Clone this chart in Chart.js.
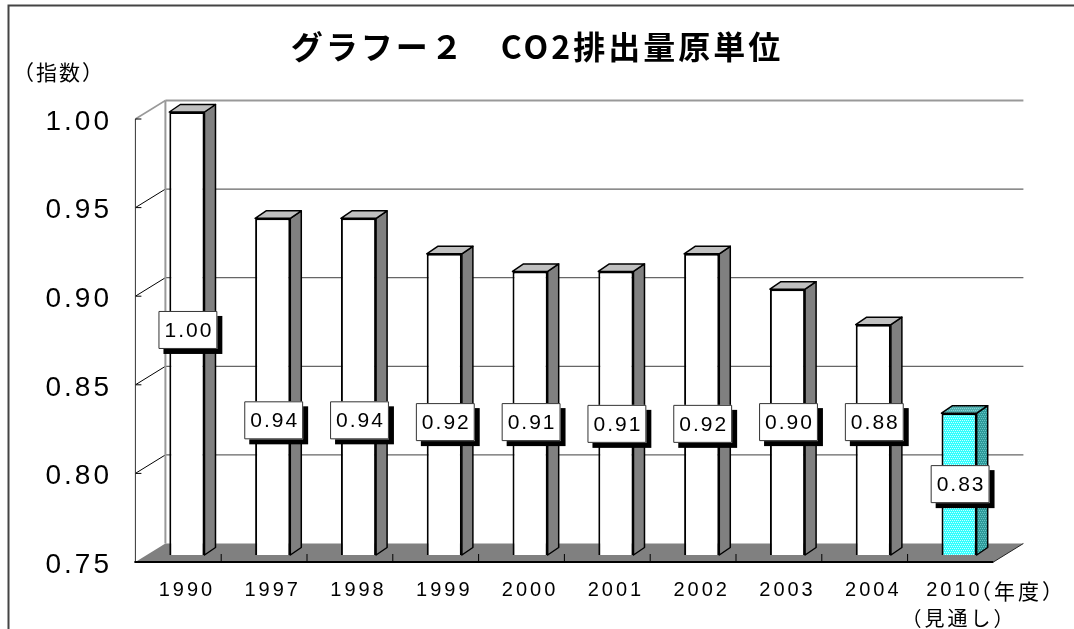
<!DOCTYPE html>
<html lang="ja">
<head>
<meta charset="utf-8">
<title>グラフー２　CO2排出量原単位</title>
<script src="https://cdn.jsdelivr.net/npm/chart.js@4.4.1/dist/chart.umd.min.js"></script>
<style>
  html, body { margin: 0; padding: 0; background: #fff; }
</style>
</head>
<body>
<canvas id="chart" width="1074" height="629"></canvas>
<script>
// ===== DATA =====
const categories = ["1990", "1997", "1998", "1999", "2000", "2001", "2002", "2003", "2004", "2010"];
const values = [1.00, 0.94, 0.94, 0.92, 0.91, 0.91, 0.92, 0.90, 0.88, 0.83];
const yTicks = [0.75, 0.80, 0.85, 0.90, 0.95, 1.00];
const forecastYear = "2010";   // 見通し

// where each value label box sits (in axis units)
const labelAnchor = [0.877, 0.826, 0.826, 0.825, 0.825, 0.824, 0.824, 0.825, 0.825, 0.790];

// ===== 3D GEOMETRY (relative to the plane of the bar fronts) =====
const FRONT = {dx: -8.6, dy: 7};
const BACK = {dx: 21.4, dy: -11.5};
const DEPTH = {dx: 11, dy: -7.5};
const SANS = '"Liberation Sans", Arial, "Noto Sans CJK JP", sans-serif';
const CJK = '"Noto Sans CJK JP", "Noto Sans CJK SC", sans-serif';

const canvas = document.getElementById("chart");
const ctx = canvas.getContext("2d");

// small dithered fill like the original cyan bar
function dither(base, dot) {
  const c = document.createElement("canvas");
  c.width = 4; c.height = 4;
  const g = c.getContext("2d");
  g.fillStyle = base;
  g.fillRect(0, 0, 4, 4);
  g.fillStyle = dot;
  [[0, 0], [2, 0], [1, 2], [3, 2]].forEach(p => g.fillRect(p[0], p[1], 1, 1));
  return ctx.createPattern(c, "repeat");
}
const cyanFront = dither("#33ffff", "#ccffff");
const cyanSide = dither("#2e9a9a", "#66c6c6");
const cyanTop = dither("#4fb0b0", "#8ad4d4");

const isForecast = categories.map(c => c === forecastYear);
const frontFill = isForecast.map(f => f ? cyanFront : "#ffffff");
const sideFill = isForecast.map(f => f ? cyanSide : "#808080");
const topFill = isForecast.map(f => f ? cyanTop : "#c0c0c0");

function poly(pts, fill, stroke, lw) {
  ctx.beginPath();
  ctx.moveTo(pts[0][0], pts[0][1]);
  for (let i = 1; i < pts.length; i++) ctx.lineTo(pts[i][0], pts[i][1]);
  ctx.closePath();
  if (fill) { ctx.fillStyle = fill; ctx.fill(); }
  if (stroke) { ctx.strokeStyle = stroke; ctx.lineWidth = lw || 1; ctx.stroke(); }
}
function line(x1, y1, x2, y2, color, lw) {
  ctx.beginPath();
  ctx.moveTo(x1, y1);
  ctx.lineTo(x2, y2);
  ctx.strokeStyle = color;
  ctx.lineWidth = lw || 1;
  ctx.stroke();
}

// ===== PLUGIN: frame, titles, walls, floor, bar sides, labels =====
const threeD = {
  id: "threeD",
  beforeDraw(chart) {
    ctx.save();
    // outer frame
    ctx.beginPath();
    ctx.moveTo(8.5, 640);
    ctx.lineTo(8.5, 5.5);
    ctx.lineTo(1080, 5.5);
    ctx.strokeStyle = "#444";
    ctx.lineWidth = 2;
    ctx.stroke();

    ctx.fillStyle = "#000";
    ctx.textBaseline = "middle";
    ctx.textAlign = "center";
    ctx.font = "bold 32px " + CJK;
    ctx.letterSpacing = "3px";
    ctx.fillText("グラフー２　CO2排出量原単位", 537, 47);

    ctx.textAlign = "left";
    ctx.font = "21px " + CJK;
    ctx.letterSpacing = "2px";
    ctx.fillText("（指数）", 13, 72);

    ctx.font = "21px " + CJK;
    ctx.letterSpacing = "3px";
    ctx.fillText("（年度）", 970, 591);
    ctx.restore();
    ctx.letterSpacing = "3px";   // axis labels are widely spaced
  },
  beforeDatasetsDraw(chart) {
    const {left, right} = chart.chartArea;
    const y = chart.scales.y, x = chart.scales.x;
    const lo = yTicks[0], hi = yTicks[yTicks.length - 1];
    const fx0 = left + FRONT.dx, fx1 = right + FRONT.dx;
    const bx0 = left + BACK.dx, bx1 = right + BACK.dx;
    const yF = v => y.getPixelForValue(v) + FRONT.dy;
    const yB = v => y.getPixelForValue(v) + BACK.dy;

    ctx.save();
    // left side wall and back wall
    poly([[fx0, yF(hi)], [bx0, yB(hi)], [bx0, yB(lo)], [fx0, yF(lo)]], "#fff");
    poly([[bx0, yB(hi)], [bx1, yB(hi)], [bx1, yB(lo)], [bx0, yB(lo)]], "#fff");

    yTicks.forEach(v => {
      if (v === lo || v === hi) return;
      line(bx0, yB(v), bx1, yB(v), "#666", 1.2);
      line(bx0, yB(v), fx0, yF(v), "#000", 1);
      line(fx0, yF(v), fx0 + 6, yF(v), "#000", 1);
    });
    line(bx0, yB(hi), bx1, yB(hi), "#999", 2);
    line(fx0, yF(hi), bx0, yB(hi), "#999", 1.5);
    line(bx0, yB(hi), bx0, yB(lo), "#999", 2);
    line(fx0, yF(hi), fx0, yF(lo), "#333", 1);
    line(fx0, yF(hi), fx0 + 6, yF(hi), "#000", 1);

    // floor
    poly([[fx0, yF(lo)], [fx1, yF(lo)], [bx1, yB(lo)], [bx0, yB(lo)]], "#808080");
    line(fx1, yF(lo), bx1, yB(lo), "#222", 1);
    line(fx0 - 1, yF(lo), fx1, yF(lo), "#000", 2);
    for (let i = 1; i < categories.length; i++) {
      const xb = (x.getPixelForValue(i - 1) + x.getPixelForValue(i)) / 2 + FRONT.dx;
      line(xb, yF(lo), xb, yF(lo) - 8, "#000", 1);
    }
    ctx.restore();
  },
  afterDatasetsDraw(chart) {
    const meta = chart.getDatasetMeta(0);
    const y = chart.scales.y;
    const floorY = chart.chartArea.bottom;
    ctx.save();
    ctx.lineJoin = "round";
    meta.data.forEach((el, i) => {
      const p = el.getProps(["x", "y", "base", "width"], true);
      const xl = p.x - p.width / 2, xr = p.x + p.width / 2;
      const base = Math.min(p.base, floorY);
      poly([[xr, p.y], [xr + DEPTH.dx, p.y + DEPTH.dy], [xr + DEPTH.dx, base + DEPTH.dy], [xr, base]],
        sideFill[i], "#000", 1.5);
      poly([[xl, p.y], [xr, p.y], [xr + DEPTH.dx, p.y + DEPTH.dy], [xl + DEPTH.dx, p.y + DEPTH.dy]],
        topFill[i], "#000", 1.5);
    });

    // value labels with shadow
    ctx.font = "21px " + SANS;
    ctx.letterSpacing = "2px";
    ctx.textAlign = "center";
    ctx.textBaseline = "middle";
    meta.data.forEach((el, i) => {
      const txt = values[i].toFixed(2);
      const w = ctx.measureText(txt).width + 10, h = 38;
      const cx = el.x + 1, cy = y.getPixelForValue(labelAnchor[i]);
      ctx.fillStyle = "#000";
      ctx.fillRect(cx - w / 2 + 5, cy - h / 2 + 5, w, h);
      ctx.fillStyle = "#fff";
      ctx.fillRect(cx - w / 2, cy - h / 2, w, h);
      ctx.strokeStyle = "#333";
      ctx.lineWidth = 1;
      ctx.strokeRect(cx - w / 2 + 0.5, cy - h / 2 + 0.5, w - 1, h - 1);
      ctx.fillStyle = "#000";
      ctx.fillText(txt, cx + 1, cy + 1);
    });
    ctx.restore();
  }
};

// ===== CHART =====
new Chart(ctx, {
  type: "bar",
  data: {
    labels: categories.map(c => c === forecastYear ? [c + "\u200A\u200A", "（見通し）"] : c),
    datasets: [{
      label: "CO2排出量原単位",
      data: values,
      backgroundColor: frontFill,
      borderColor: "#000",
      borderWidth: 2,
      borderSkipped: false,
      categoryPercentage: 1,
      barPercentage: 0.41
    }]
  },
  options: {
    responsive: false,
    animation: false,
    layout: {padding: {left: 0, right: 72, top: 112, bottom: 0}},
    plugins: {legend: {display: false}, tooltip: {enabled: false}, title: {display: false}},
    scales: {
      x: {
        grid: {display: false, drawTicks: false},
        border: {display: false},
        ticks: {
          color: "#000", padding: 20, maxRotation: 0, autoSkip: false,
          font: {family: SANS, size: 20, lineHeight: 1.5}
        },
        afterFit: s => { s.height = 74; }
      },
      y: {
        min: 0.75, max: 1.00,
        grid: {display: false, drawTicks: false},
        border: {display: false},
        afterBuildTicks: s => { s.ticks = yTicks.map(v => ({value: v})); },
        ticks: {
          color: "#000", padding: 32, labelOffset: 10,
          font: {family: SANS, size: 28},
          callback: v => Number(v).toFixed(2)
        },
        afterFit: s => { s.width = 144; }
      }
    }
  },
  plugins: [threeD]
});
</script>
</body>
</html>
